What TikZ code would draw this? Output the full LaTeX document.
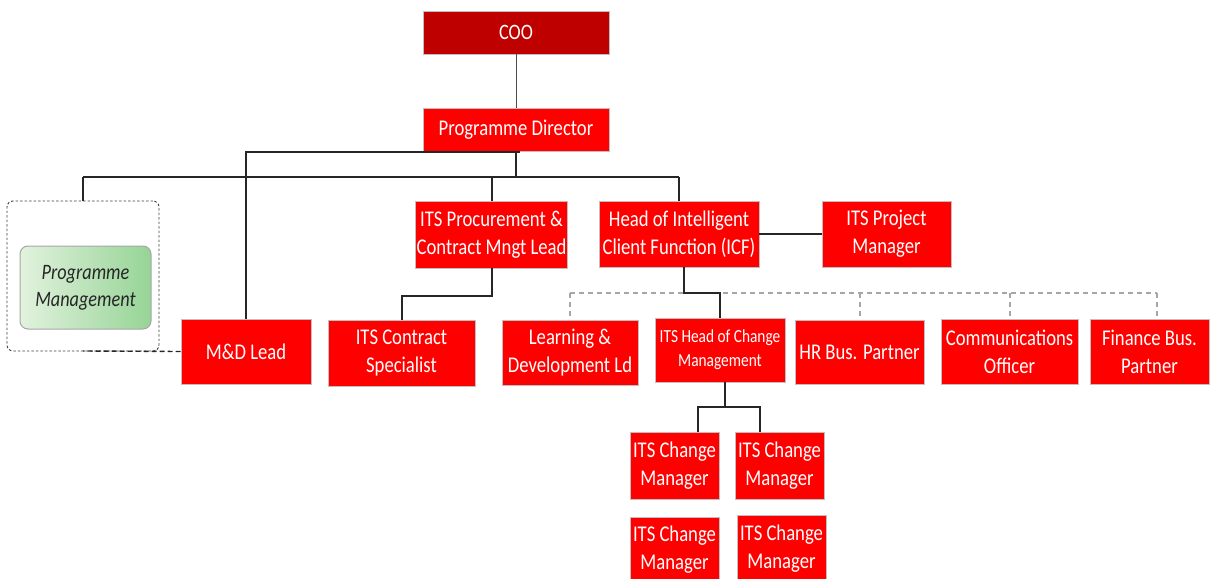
\documentclass[tikz,border=0pt]{standalone}
\usepackage{fontspec}
\setmainfont[FakeStretch=0.83]{Carlito}
\definecolor{gA}{RGB}{226,242,222}
\definecolor{gB}{RGB}{150,212,150}
\begin{document}
\begin{tikzpicture}[x=1pt,y=-1pt,
  box/.style={draw=black!25,line width=0.8pt,fill=red,text=white,inner sep=1pt,align=center,font=\fontsize{22.5}{28}\selectfont},
  conn/.style={draw=black!85,line width=1.2pt},
  gconn/.style={draw=black!35,line width=1.2pt,dash pattern=on 5pt off 4pt},
]
\useasboundingbox (0,0) rectangle (1217,578);
% nodes
\node[box,fill=red!75!black,minimum width=186pt,minimum height=43pt,font=\fontsize{22}{26}\selectfont] (COO) at (516,32.5) {COO};
\node[box,minimum width=186pt,minimum height=43pt] (PD) at (516,129.5) {Programme Director};
\node[box,minimum width=149pt,minimum height=67pt] (PROC) at (491.5,234.5) {ITS Procurement \&\\Contract Mngt Lead};
\node[box,minimum width=160pt,minimum height=66pt] (ICF) at (679,234) {Head of Intelligent\\Client Function (ICF)};
\node[box,minimum width=129pt,minimum height=66pt] (PM) at (886.5,234) {ITS Project\\Manager};
\node[draw=black!75,dash pattern=on 2.5pt off 2pt,rounded corners=6pt,line width=0.9pt,minimum width=152pt,minimum height=150pt] (PMO) at (83,276) {};
\node[draw=black!35,line width=1pt,rounded corners=8pt,left color=gA,right color=gB,text=black!85,align=center,minimum width=131pt,minimum height=83pt,font=\fontsize{22}{27}\selectfont\itshape] (PMG) at (85.5,287.5) {Programme\\Management};
\node[box,minimum width=130pt,minimum height=65pt] (MD) at (246,351.5) {M\&D Lead};
\node[box,minimum width=147pt,minimum height=66pt] (CS) at (401.5,353) {ITS Contract\\Specialist};
\node[box,minimum width=136pt,minimum height=65pt] (LD) at (570,352.5) {Learning \&\\Development Ld};
\node[box,minimum width=130pt,minimum height=64pt,font=\fontsize{18.5}{24}\selectfont] (HOC) at (720,350) {ITS Head of Change\\Management};
\node[box,minimum width=129pt,minimum height=64pt] (HR) at (859.5,352) {HR Bus. Partner};
\node[box,minimum width=137pt,minimum height=65pt] (CO) at (1009.5,351.5) {Communications\\Officer};
\node[box,minimum width=119pt,minimum height=65pt] (FB) at (1149.5,351.5) {Finance Bus.\\Partner};
\node[box,minimum width=89pt,minimum height=67pt] (CM1) at (674.5,465.5) {ITS Change\\Manager};
\node[box,minimum width=89pt,minimum height=67pt] (CM2) at (779.5,465.5) {ITS Change\\Manager};
\node[box,minimum width=89pt,minimum height=66pt] (CM3) at (674.5,550) {ITS Change\\Manager};
\node[box,minimum width=89pt,minimum height=68pt] (CM4) at (781.5,549) {ITS Change\\Manager};
% junction coordinates
\coordinate (jPD) at (519,152);
\coordinate (jMD) at (246,152);
\coordinate (jB) at (516,177);
\coordinate (jL) at (83,177);
\coordinate (jR) at (679,177);
\coordinate (jP) at (492,177);
\coordinate (jCS1) at (492,296);
\coordinate (jCS2) at (402,296);
\coordinate (jI1) at (684,293);
\coordinate (jI2) at (720,293);
\coordinate (gL) at (570,293);
\coordinate (gH) at (860,293);
\coordinate (gC) at (1010,293);
\coordinate (gF) at (1157,293);
\coordinate (jH) at (725,407);
\coordinate (jHL) at (698,407);
\coordinate (jHR) at (760,407);
\coordinate (jMDd) at (83,351);
% connectors
\draw[draw=black!70,line width=0.9pt] (COO.south) -- (PD.north);
\draw[conn] (PD.south -| jPD) -- (jPD) -- (jMD) -- (MD.north -| jMD);
\draw[conn] (PD.south) -- (jB);
\draw[conn] (jL) -- (jR);
\draw[conn] (jL) -- (PMO.north);
\draw[conn] (jP) -- (PROC.north -| jP);
\draw[conn] (jR) -- (ICF.north);
\draw[conn] (ICF.east) -- (PM.west);
\draw[conn] (PROC.south -| jCS1) -- (jCS1) -- (jCS2) -- (CS.north -| jCS2);
\draw[gconn] (gL) -- (gF);
\draw[gconn] (gL) -- (LD.north -| gL);
\draw[gconn] (gH) -- (HR.north -| gH);
\draw[gconn] (gC) -- (CO.north -| gC);
\draw[gconn] (gF) -- (FB.north -| gF);
\draw[conn] (ICF.south -| jI1) -- (jI1) -- (jI2) -- (HOC.north);
\draw[conn] (HOC.south -| jH) -- (jH);
\draw[conn] (CM1.north -| jHL) -- (jHL) -- (jHR) -- (CM2.north -| jHR);
\draw[draw=black!85,line width=1.4pt,dash pattern=on 5pt off 3pt] (MD.west) -- (jMDd);
\end{tikzpicture}
\end{document}
